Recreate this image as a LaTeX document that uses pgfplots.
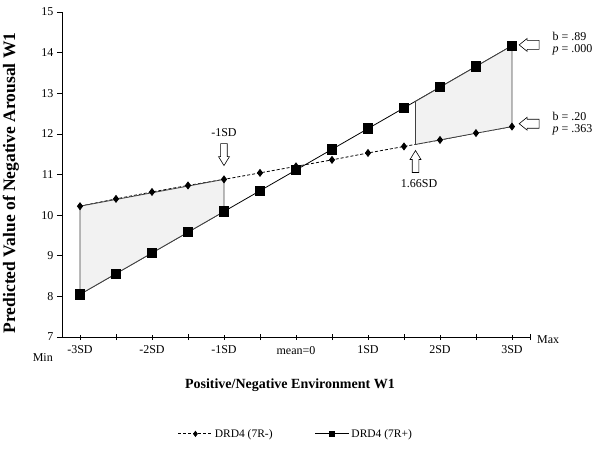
\documentclass[border=0pt]{standalone}
\usepackage{fontspec}
\setmainfont{Liberation Serif}
\usepackage{pgfplots}
\pgfplotsset{compat=1.18}
\begin{document}
\begin{tikzpicture}
\useasboundingbox (-62pt,-111pt) rectangle (538pt,337pt);
\begin{axis}[
  at={(0pt,0pt)}, anchor=south west,
  scale only axis, width=468pt, height=325pt,
  xmin=-3.25, xmax=3.25, ymin=7, ymax=15,
  axis lines*=left,
  axis line style={black, line width=0.8pt},
  clip=false,
  xtick={-3,-2,-1,0,1,2,3},
  xticklabels={-3SD,-2SD,-1SD,mean=0,1SD,2SD,3SD},
  minor xtick={-2.5,-1.5,-0.5,0.5,1.5,2.5,3.25},
  ytick={7,8,...,15},
  xtick align=center, ytick align=outside,
  major tick length=5pt, minor tick length=6pt,
  tick style={black, line width=0.6pt},
  /pgf/number format/assume math mode=true,
  tick label style={font=\fontsize{12}{14}\selectfont},
  xticklabel style={yshift=-3pt},
  xlabel={Positive/Negative Environment W1},
  ylabel={Predicted Value of Negative Arousal W1},
  xlabel style={font=\fontsize{14}{16}\selectfont\bfseries,
    at={(axis description cs:0.487,-0.148)}, anchor=center},
  ylabel style={font=\fontsize{17.5}{19}\selectfont\bfseries,
    at={(axis description cs:-0.109,0.474)}, anchor=center},
  legend columns=2,
  legend style={at={(axis description cs:0.5,-0.298)}, anchor=center, draw=none,
    font=\fontsize{11.5}{13}\selectfont, /tikz/every even column/.append style={column sep=40pt}},
  legend image code/.code={\draw[#1, mark repeat=2, mark phase=2, mark size=2.5pt]
    plot coordinates {(0pt,0pt) (17pt,0pt) (34pt,0pt)};},
]
\addplot[black, line width=0.8pt, dash pattern=on 3pt off 2pt, mark=diamond*,
  mark size=3.4pt, mark options={solid}] coordinates {
  (-3,10.22) (-2.5,10.40) (-2,10.57) (-1.5,10.73) (-1,10.88) (-0.5,11.04)
  (0,11.20) (0.5,11.36) (1,11.53) (1.5,11.69) (2,11.85) (2.5,12.02) (3,12.18)};
\addlegendentry{DRD4 (7R-)}
\addplot[black, line width=0.8pt, mark=square*, mark size=4.7pt] coordinates {
  (-3,8.05) (-2.5,8.56) (-2,9.07) (-1.5,9.58) (-1,10.09) (-0.5,10.60)
  (0,11.11) (0.5,11.62) (1,12.13) (1.5,12.64) (2,13.15) (2.5,13.66) (3,14.17)};
\addlegendentry{DRD4 (7R+)}
% shaded regions of significance
\addplot[forget plot, draw=black!75, line width=0.8pt, fill=gray!10] coordinates {
  (-3,10.22) (-1,10.88) (-1,10.09) (-3,8.05)} -- cycle;
\addplot[forget plot, draw=black!75, line width=0.8pt, fill=gray!10] coordinates {
  (1.66,11.74) (3,12.18) (3,14.17) (1.66,12.80)} -- cycle;
% hollow arrows
\draw[fill=white, line width=0.6pt] (axis cs:-1,11.22) -- ++(-5.5pt,9pt) -- ++(2.2pt,0pt) -- ++(0pt,13pt)
  -- ++(6.6pt,0pt) -- ++(0pt,-13pt) -- ++(2.2pt,0pt) -- cycle;
\draw[fill=white, line width=0.6pt] (axis cs:1.66,11.59) -- ++(-5.5pt,-9pt) -- ++(2.2pt,0pt) -- ++(0pt,-13pt)
  -- ++(6.6pt,0pt) -- ++(0pt,13pt) -- ++(2.2pt,0pt) -- cycle;
\draw[fill=white, line width=0.6pt] (axis cs:3.1,14.19) -- ++(8pt,6.5pt) -- ++(0pt,-2pt) -- ++(12pt,0pt)
  -- ++(0pt,-9pt) -- ++(-12pt,0pt) -- ++(0pt,-2pt) -- cycle;
\draw[fill=white, line width=0.6pt] (axis cs:3.1,12.25) -- ++(8pt,6.5pt) -- ++(0pt,-2pt) -- ++(12pt,0pt)
  -- ++(0pt,-9pt) -- ++(-12pt,0pt) -- ++(0pt,-2pt) -- cycle;
% annotations
\begin{scope}[every node/.style={font=\fontsize{12}{14}\selectfont, inner sep=0pt}]
\node at (axis cs:-1,12.03) {-1SD};
\node at (axis cs:1.71,10.78) {1.66SD};
\node[anchor=west] at (axis cs:3.56,14.41) {b = .89};
\node[anchor=west] at (axis cs:3.56,14.07) {\textit{p} = .000};
\node[anchor=west] at (axis cs:3.56,12.42) {b = .20};
\node[anchor=west] at (axis cs:3.56,12.11) {\textit{p} = .363};
\node at (axis description cs:-0.041,-0.0646) {Min};
\node[anchor=west] at (axis description cs:1.015,-0.009) {Max};
\end{scope}
\end{axis}
\end{tikzpicture}
\end{document}
